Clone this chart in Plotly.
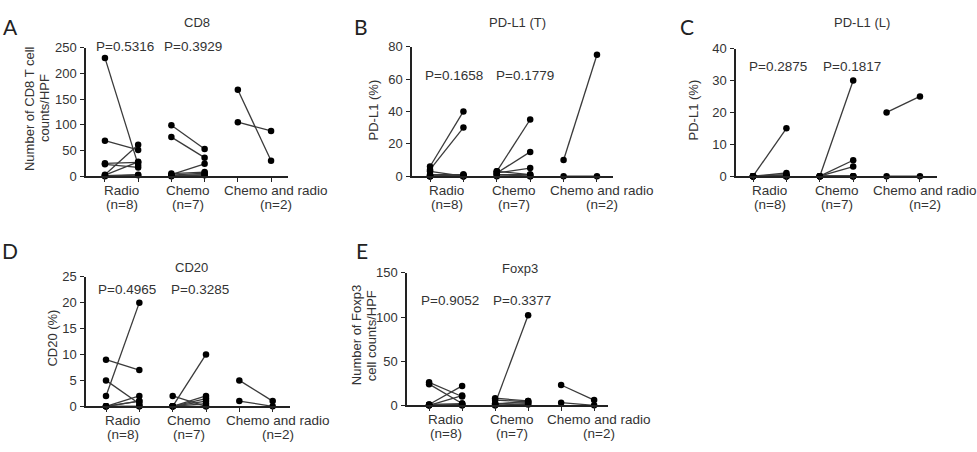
import plotly.graph_objects as go

W, H = 977, 452

groups = ["Radio", "Chemo", "Chemo and radio"]
group_n = [8, 7, 2]

# Panel A: CD8 (counts/HPF)
cd8_before = [[230, 69, 25, 23, 3, 2, 1, 0], [99, 76, 3, 5, 2, 1, 0], [168, 105]]
cd8_after = [[22, 51, 27, 17, 61, 28, 3, 2], [53, 36, 24, 8, 6, 3, 2], [30, 88]]
cd8_p = ["P=0.5316", "P=0.3929"]

# Panel B: PD-L1 (T) %
pdl1t_before = [[6, 4, 3, 1, 0, 0, 0, 0], [3, 2, 2, 1, 3, 0, 1], [10, 0]]
pdl1t_after = [[40, 30, 0, 1, 0, 0, 1, 0], [35, 15, 5, 1, 1, 0, 0], [75, 0]]
pdl1t_p = ["P=0.1658", "P=0.1779"]

# Panel C: PD-L1 (L) %
pdl1l_before = [[0, 0, 0, 0, 0, 0, 0, 0], [0, 0, 0, 0, 0, 0, 0], [20, 0]]
pdl1l_after = [[15, 1, 0.5, 0, 0, 0, 0, 0], [30, 5, 3, 0, 0, 0, 0], [25, 0]]
pdl1l_p = ["P=0.2875", "P=0.1817"]

# Panel D: CD20 %
cd20_before = [[2, 9, 5, 0, 0, 0, 0, 0], [0, 2, 0, 0, 0, 0, 0], [5, 1]]
cd20_after = [[20, 7, 0.5, 2, 1, 1, 0, 0], [10, 0, 2, 1, 1.5, 0.5, 0], [1, 0]]
cd20_p = ["P=0.4965", "P=0.3285"]

# Panel E: Foxp3 (counts/HPF)
foxp3_before = [[26, 24, 1, 0, 0, 0, 1, 0], [2, 8, 6, 2, 1, 0, 0], [23, 3]]
foxp3_after = [[10, 2, 22, 11, 0, 1, 2, 0], [102, 5, 4, 3, 5, 2, 1], [6, 0]]
foxp3_p = ["P=0.9052", "P=0.3377"]

panels = [
    dict(letter="A", title="CD8", before=cd8_before, after=cd8_after, p=cd8_p,
         ytitle=["Number of CD8 T cell", "counts/HPF"], ymax=250, dtick=50,
         px=(86, 288), py=(42, 175), xr=(-0.57, 5.51), p_px=((125, 41), (193, 41)),
         title_px=(197, 16), letter_px=(10, 20), ytitle_px=(37, 105)),
    dict(letter="B", title="PD-L1 (T)", before=pdl1t_before, after=pdl1t_after, p=pdl1t_p,
         ytitle=["PD-L1 (%)"], ymax=80, dtick=20,
         px=(412, 613), py=(41, 175), xr=(-0.54, 5.48), p_px=((454, 71), (525, 71)),
         title_px=(517, 16), letter_px=(361, 20), ytitle_px=(373, 107)),
    dict(letter="C", title="PD-L1 (L)", before=pdl1l_before, after=pdl1l_after, p=pdl1l_p,
         ytitle=["PD-L1 (%)"], ymax=40, dtick=10,
         px=(736, 937), py=(43, 175), xr=(-0.51, 5.51), p_px=((778, 62), (852, 62)),
         title_px=(862, 16), letter_px=(687, 20), ytitle_px=(693, 107)),
    dict(letter="D", title="CD20", before=cd20_before, after=cd20_after, p=cd20_p,
         ytitle=["CD20 (%)"], ymax=25, dtick=5,
         px=(86, 290), py=(279, 413), xr=(-0.6, 5.52), p_px=((127, 292), (200, 292)),
         title_px=(191, 269), letter_px=(10, 252), ytitle_px=(53, 343)),
    dict(letter="E", title="Foxp3", before=foxp3_before, after=foxp3_after, p=foxp3_p,
         ytitle=["Number of Foxp3", "cell counts/HPF"], ymax=150, dtick=50,
         px=(407, 608), py=(275, 412), xr=(-0.67, 5.42), p_px=((450, 304), (522, 304)),
         title_px=(520, 270), letter_px=(362, 252), ytitle_px=(364, 340)),
]

FONT = "Liberation Sans, Arial, sans-serif"
TXT = "#333333"
AX = "#222222"

fig = go.Figure()
annotations = []
layout = {}


def paper(xp, yp):
    return xp / W, 1 - yp / H


for i, pn in enumerate(panels):
    k = "" if i == 0 else str(i + 1)
    xa, ya = "x" + k, "y" + k
    for g in range(3):
        xs, ys = [], []
        for b, a in zip(pn["before"][g], pn["after"][g]):
            xs += [2 * g, 2 * g + 1, None]
            ys += [b, a, None]
        fig.add_trace(go.Scatter(
            x=xs, y=ys, xaxis=xa, yaxis=ya, mode="lines+markers",
            line=dict(color="#3a3a3a", width=1.3),
            marker=dict(color="black", size=6.5),
            cliponaxis=False, showlegend=False, hoverinfo="skip"))
    x0, x1 = pn["px"]
    y0, y1 = pn["py"]
    layout["xaxis" + k] = dict(
        domain=[x0 / W, x1 / W], range=list(pn["xr"]), anchor=ya,
        showline=True, linecolor=AX, linewidth=1.5, ticks="outside", ticklen=4,
        tickwidth=1.2, tickcolor=AX, tickvals=[0, 1, 2, 3, 4, 5],
        showticklabels=False, showgrid=False, zeroline=False, fixedrange=True)
    layout["yaxis" + k] = dict(
        domain=[1 - y1 / H, 1 - y0 / H], range=[0, pn["ymax"]], anchor=xa,
        showline=True, linecolor=AX, linewidth=1.5, ticks="outside", ticklen=4,
        tickwidth=1.2, tickcolor=AX, tickmode="linear", tick0=0, dtick=pn["dtick"],
        tickfont=dict(family=FONT, size=13, color=TXT), ticklabelstandoff=1,
        showgrid=False, zeroline=False, fixedrange=True)
    # group labels
    label_x = [0.5, 2.5, 5.15]
    for g in range(3):
        for line, dy in ((groups[g], 15), ("(n=%d)" % group_n[g], 29)):
            xp = x0 + (label_x[g] - pn["xr"][0]) / (pn["xr"][1] - pn["xr"][0]) * (x1 - x0)
            px_, py_ = paper(xp, y1 + dy)
            annotations.append(dict(x=px_, y=py_, xref="paper", yref="paper",
                                    text=line, showarrow=False, xanchor="center",
                                    yanchor="middle",
                                    font=dict(family=FONT, size=13.5, color=TXT)))
    # p-values
    for j in range(2):
        qx, qy = paper(*pn["p_px"][j])
        annotations.append(dict(x=qx, y=qy, xref="paper", yref="paper",
                                text=pn["p"][j], showarrow=False, xanchor="center",
                                yanchor="middle",
                                font=dict(family=FONT, size=13.5, color=TXT)))
    # title
    tx, ty = paper(*pn["title_px"])
    annotations.append(dict(x=tx, y=ty, xref="paper", yref="paper", text=pn["title"],
                            showarrow=False, xanchor="center", yanchor="middle",
                            font=dict(family=FONT, size=13, color=TXT)))
    # letter
    lx, ly = paper(*pn["letter_px"])
    annotations.append(dict(x=lx, y=ly, xref="paper", yref="paper", text=pn["letter"],
                            showarrow=False, xanchor="center", yanchor="middle",
                            font=dict(family="Lato, Open Sans, sans-serif", size=21,
                                      color="#222222")))
    # y-axis title (one or two lines)
    cx, cy = pn["ytitle_px"]
    nl = len(pn["ytitle"])
    for li, t in enumerate(pn["ytitle"]):
        xp = cx + (li - (nl - 1) / 2) * 15
        ax_, ay_ = paper(xp, cy)
        annotations.append(dict(x=ax_, y=ay_, xref="paper", yref="paper", text=t,
                                textangle=-90, showarrow=False, xanchor="center",
                                yanchor="middle",
                                font=dict(family=FONT, size=13, color=TXT)))

fig.update_layout(
    width=W, height=H, margin=dict(l=0, r=0, t=0, b=0),
    paper_bgcolor="white", plot_bgcolor="white",
    annotations=annotations, **layout)

fig.write_html("out.html", config={"displayModeBar": False})
